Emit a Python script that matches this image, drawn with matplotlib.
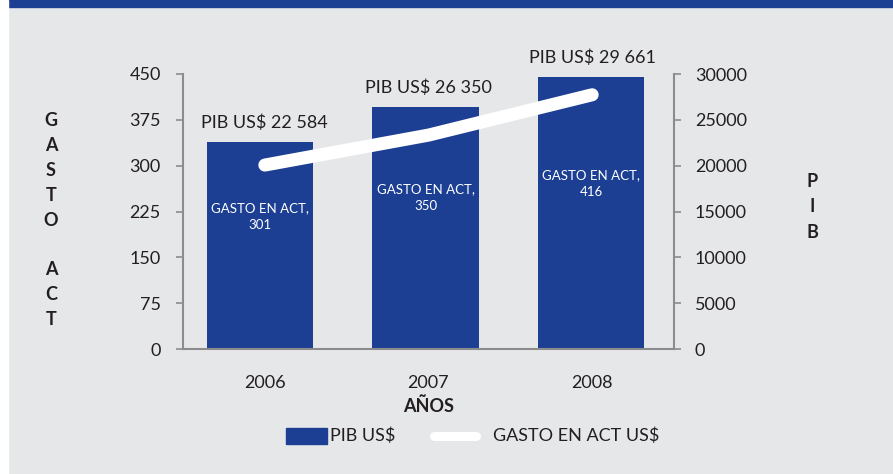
import matplotlib.pyplot as plt
from matplotlib.patches import Rectangle
from matplotlib.lines import Line2D

plt.rcParams['font.family'] = ['Lato', 'DejaVu Sans']

years = ["2006", "2007", "2008"]
pib = [22584, 26350, 29661]
gasto = [301, 350, 416]

blue = "#1c3f94"
bg = "#e6e7e9"
gray = "#8c8c8c"
txt = "#231f20"

W, H = 893, 474
fig = plt.figure(figsize=(W / 100, H / 100), dpi=100, facecolor=bg)

# top band and left white strip
fig.patches.append(Rectangle((8 / W, 1 - 7 / H), 1, 7 / H, transform=fig.transFigure,
                             color=blue, zorder=0))
fig.patches.append(Rectangle((0, 0), 8 / W, 1, transform=fig.transFigure,
                             color="white", zorder=0))

ax = fig.add_axes([183 / W, 1 - 349 / H, (674 - 183) / W, (349 - 74) / H])
ax2 = ax.twinx()
ax.set_zorder(ax2.get_zorder() + 1)
ax.patch.set_visible(False)
ax2.patch.set_visible(False)

x = list(range(len(years)))
# bars sit a little left of the category centres, as in the original
bx = [i - 0.03 + 0.012 * i for i in x]
ax2.bar(bx, pib, width=0.65, color=blue)
ax2.set_ylim(0, 30000)
ax2.set_yticks(range(0, 30001, 5000))

ax.plot(x, gasto, color="white", lw=9.4, solid_capstyle="round")
ax.set_ylim(0, 450)
ax.set_yticks(range(0, 451, 75))
ax.set_xlim(-0.5, 2.5)
ax.set_xticks(x)
ax.set_xticklabels(years)

for a in (ax, ax2):
    for s in a.spines.values():
        s.set_color(gray)
        s.set_linewidth(1.5)
    a.spines["top"].set_visible(False)
ax.spines["right"].set_visible(False)
ax2.spines["left"].set_visible(False)
ax2.spines["bottom"].set_visible(False)

ax.tick_params(axis="y", length=5, width=1.2, color=gray, labelsize=13, labelcolor=txt, pad=11)
ax.tick_params(axis="x", length=0, labelsize=13, labelcolor=txt, pad=19)
ax2.tick_params(axis="y", length=5, width=1.2, color=gray, labelsize=13, labelcolor=txt, pad=10)

# PIB labels above bars
for i, v in enumerate(pib):
    ax2.annotate("PIB US$ " + f"{v:,}".replace(",", " "), (i, v), xytext=(0, 8),
                 textcoords="offset points", ha="center", va="bottom",
                 fontsize=13, color=txt)

# GASTO labels inside bars
offs = [37, 45, 64]
for i, v in enumerate(gasto):
    ax.annotate(f"GASTO EN ACT,\n{v}", (bx[i], v), xytext=(0, -offs[i]),
                textcoords="offset points", ha="center", va="center",
                fontsize=9.5, color="white", linespacing=1.55)

ax.set_xlabel("AÑOS", fontsize=13, fontweight="bold", color=txt, labelpad=4)

fig.text(51 / W, 1 - 220 / H, "G\nA\nS\nT\nO\n\nA\nC\nT", ha="center", va="center",
         fontsize=13, fontweight="bold", color=txt, linespacing=1.57)
fig.text(812 / W, 1 - 207 / H, "P\nI\nB", ha="center", va="center",
         fontsize=13, fontweight="bold", color=txt, linespacing=1.6)

# legend
fig.patches.append(Rectangle((286 / W, 1 - 444 / H), 41 / W, 16 / H,
                             transform=fig.transFigure, color=blue))
fig.text(330 / W, 1 - 436 / H, "PIB US$", ha="left", va="center", fontsize=13, color=txt)
fig.lines.append(Line2D([434 / W, 476 / W], [1 - 436 / H, 1 - 436 / H],
                        transform=fig.transFigure, color="white", lw=6.5,
                        solid_capstyle="round"))
fig.text(493 / W, 1 - 436 / H, "GASTO EN ACT US$", ha="left", va="center",
         fontsize=13, color=txt)

fig.savefig("out.png", dpi=100, facecolor=bg)
